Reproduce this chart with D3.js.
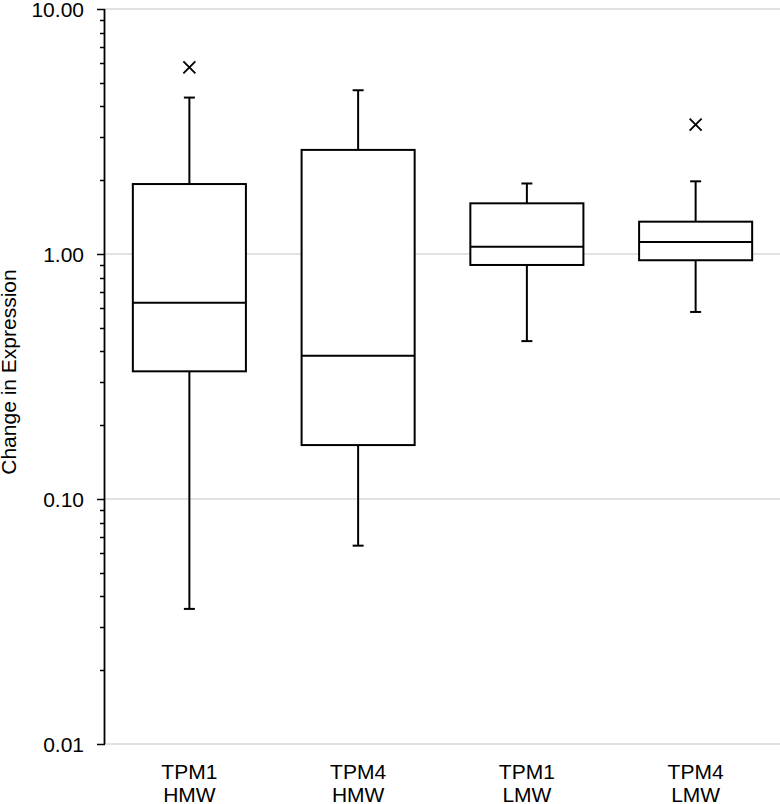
<!DOCTYPE html>
<html>
<head>
<meta charset="utf-8">
<script src="https://cdn.jsdelivr.net/npm/d3@7/dist/d3.min.js"></script>
<style>
  html, body { margin: 0; padding: 0; background: #fff; }
  svg { display: block; font-family: "Liberation Sans", Arial, sans-serif; }
</style>
</head>
<body>
<svg id="chart" width="780" height="804"></svg>
<script>
// ---- data ----
const categories = [["TPM1", "HMW"], ["TPM4", "HMW"], ["TPM1", "LMW"], ["TPM4", "LMW"]];
const whiskerLow  = [0.0356, 0.0645, 0.441, 0.58];
const q1          = [0.332, 0.166, 0.902, 0.943];
const median      = [0.632, 0.384, 1.07, 1.12];
const q3          = [1.93, 2.66, 1.61, 1.355];
const whiskerHigh = [4.35, 4.66, 1.94, 1.98];
const outliers    = [[5.78], [], [], [3.37]];
const yTicks = [0.01, 0.1, 1, 10];
const yLabel = "Change in Expression";

const boxes = categories.map((c, i) => ({
  cat: c.join("\n"), lines: c, lo: whiskerLow[i], q1: q1[i], med: median[i],
  q3: q3[i], hi: whiskerHigh[i], out: outliers[i]
}));

const svg = d3.select("#chart");
const m = { left: 105, right: 780, top: 9, bottom: 744 };
const FS = 21;

const x = d3.scaleBand().domain(boxes.map(d => d.cat)).range([m.left, m.right]).paddingInner(0.33).paddingOuter(0.165);
const y = d3.scaleLog().domain([0.01, 10]).range([m.bottom, m.top]);

// gridlines
svg.append("g").selectAll("line").data(yTicks).join("line")
  .attr("x1", m.left).attr("x2", m.right)
  .attr("y1", d => y(d)).attr("y2", d => y(d))
  .attr("stroke", "#d9d9d9").attr("stroke-width", 1.3);

// minor ticks
const minor = [];
for (let e = -2; e < 1; e++) for (let k = 2; k <= 9; k++) minor.push(k * Math.pow(10, e));
svg.append("g").selectAll("line").data(minor).join("line")
  .attr("x1", m.left - 5).attr("x2", m.left)
  .attr("y1", d => Math.round(y(d)) + 0.5).attr("y2", d => Math.round(y(d)) + 0.5)
  .attr("stroke", "#000").attr("stroke-width", 1.5);

// y axis
const yAxis = d3.axisLeft(y).tickValues(yTicks).tickFormat(d3.format(".2f")).tickSize(8).tickPadding(13);
const ga = svg.append("g").attr("transform", `translate(${m.left},0)`).call(yAxis);
ga.select(".domain").attr("stroke", "#000").attr("stroke-width", 1.8).attr("d", `M-0.5,${m.top}V${m.bottom}`);
ga.selectAll(".tick line").attr("stroke", "#000").attr("stroke-width", 1.5);
ga.selectAll(".tick text").attr("font-size", FS).attr("fill", "#000")
  .attr("font-family", "'Liberation Sans', Arial, sans-serif").attr("dy", "0.36em");

// axis label
svg.append("text")
  .attr("transform", `translate(16,${372}) rotate(-90)`)
  .attr("text-anchor", "middle").attr("font-size", FS).attr("fill", "#000")
  .text(yLabel);

// category labels
const cl = svg.append("g").selectAll("text").data(boxes).join("text")
  .attr("text-anchor", "middle").attr("font-size", FS).attr("fill", "#000")
  .attr("x", d => x(d.cat) + x.bandwidth() / 2);
cl.selectAll("tspan").data(d => d.lines.map((t, i) => ({ t, i, cx: x(d.cat) + x.bandwidth() / 2 }))).join("tspan")
  .attr("x", d => d.cx).attr("y", d => 779 + d.i * 22.5).text(d => d.t);

// boxes
const g = svg.append("g").selectAll("g").data(boxes).join("g");
const bw = x.bandwidth();
const capW = 11;
g.append("line").attr("x1", d => x(d.cat) + bw / 2).attr("x2", d => x(d.cat) + bw / 2)
  .attr("y1", d => y(d.q3)).attr("y2", d => y(d.hi)).attr("stroke", "#000").attr("stroke-width", 2);
g.append("line").attr("x1", d => x(d.cat) + bw / 2).attr("x2", d => x(d.cat) + bw / 2)
  .attr("y1", d => y(d.q1)).attr("y2", d => y(d.lo)).attr("stroke", "#000").attr("stroke-width", 2);
g.append("line").attr("x1", d => x(d.cat) + bw / 2 - capW / 2).attr("x2", d => x(d.cat) + bw / 2 + capW / 2)
  .attr("y1", d => y(d.hi)).attr("y2", d => y(d.hi)).attr("stroke", "#000").attr("stroke-width", 2);
g.append("line").attr("x1", d => x(d.cat) + bw / 2 - capW / 2).attr("x2", d => x(d.cat) + bw / 2 + capW / 2)
  .attr("y1", d => y(d.lo)).attr("y2", d => y(d.lo)).attr("stroke", "#000").attr("stroke-width", 2);
g.append("rect").attr("x", d => x(d.cat)).attr("width", bw)
  .attr("y", d => y(d.q3)).attr("height", d => y(d.q1) - y(d.q3))
  .attr("fill", "#fff").attr("stroke", "#000").attr("stroke-width", 2);
g.append("line").attr("x1", d => x(d.cat)).attr("x2", d => x(d.cat) + bw)
  .attr("y1", d => y(d.med)).attr("y2", d => y(d.med)).attr("stroke", "#000").attr("stroke-width", 2);

// outliers (x markers)
const s = 6;
g.each(function (d) {
  const cx = x(d.cat) + bw / 2;
  d3.select(this).selectAll("path.out").data(d.out).join("path").attr("class", "out")
    .attr("d", v => `M${cx - s},${y(v) - s}L${cx + s},${y(v) + s}M${cx - s},${y(v) + s}L${cx + s},${y(v) - s}`)
    .attr("stroke", "#000").attr("stroke-width", 1.8).attr("fill", "none");
});
</script>
</body>
</html>
